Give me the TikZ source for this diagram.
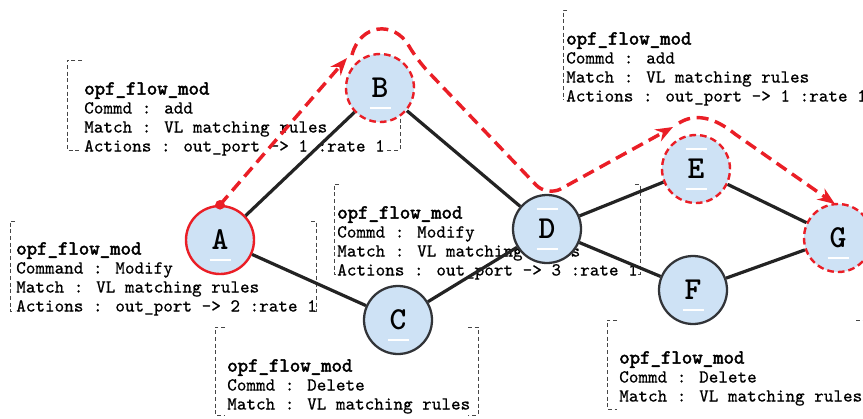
\documentclass[tikz,border=0pt]{standalone}
\usepackage{fontspec}
\usetikzlibrary{arrows.meta}

\newfontfamily\flowfont{lmmono10-regular.otf}[FakeBold=0.6]
\newfontfamily\headfont{lmmono10-regular.otf}[FakeBold=2.4]

\definecolor{swfill}{RGB}{206,226,245}
\definecolor{swline}{RGB}{50,52,56}
\definecolor{linkcol}{RGB}{35,35,35}
\definecolor{pathred}{RGB}{234,30,38}
\definecolor{boxcol}{RGB}{70,70,70}

\tikzset{
  switch/.style={circle, fill=swfill, draw=swline, line width=1.7pt, minimum size=51pt, inner sep=0pt,
    font=\fontsize{24}{24}\selectfont\ttfamily\bfseries},
  onpath/.style={draw=pathred, line width=1.8pt},
  touched/.style={draw=pathred, line width=1.8pt, dash pattern=on 5pt off 3pt},
  link/.style={draw=linkcol, line width=2.4pt},
  route/.style={draw=pathred, line width=2.6pt, dash pattern=on 9pt off 5pt,
    -{Stealth[length=13pt,width=10pt]}},
  flowbox/.style={draw=boxcol, line width=0.6pt, dash pattern=on 3pt off 2pt},
  flowtext/.style={anchor=north west, align=left, inner sep=0pt,
    font=\fontsize{13.7}{14.25}\selectfont\flowfont},
  bar/.style={white, line width=1.5pt}
}
\newcommand{\flowhead}{{\fontsize{14.9}{14.25}\selectfont\headfont opf\_flow\_mod}}

\begin{document}
\begin{tikzpicture}[x=0.75pt,y=-0.75pt]
\useasboundingbox (0,0) rectangle (863,418);

%FLOW MOD BOXES
% box at B
\draw[flowbox] (82,60) -- (67,60) -- (67,150) -- (80,150);
\draw[flowbox] (400,112) -- (400,150) -- (385,150);
\node[flowtext] (txtB) at (84,82) {\flowhead\\Commd : add\\Match : VL matching rules\\Actions : out\_port -> 1 :rate 1};
% box at A
\draw[flowbox] (15,221) -- (10,221) -- (10,311) -- (15,311);
\draw[flowbox] (311,221) -- (316,221) -- (316,311) -- (311,311);
\node[flowtext] (txtA) at (16,242) {\flowhead\\Command : Modify\\Match : VL matching rules\\Actions : out\_port -> 2 :rate 1};
% box at D
\draw[flowbox] (339,184) -- (334,184) -- (334,274) -- (339,274);
\draw[flowbox] (635,184) -- (640,184) -- (640,274) -- (635,274);
\node[flowtext] (txtD) at (337,206) {\flowhead\\Commd : Modify\\Match : VL matching rules\\Actions : out\_port -> 3 :rate 1};
% box at C
\draw[flowbox] (225,327) -- (215,327) -- (215,415) -- (225,415);
\draw[flowbox] (468,327) -- (478,327) -- (478,415) -- (468,415);
\node[flowtext] (txtC) at (227,359) {\flowhead\\Commd : Delete\\Match : VL matching rules};
% box at E
\draw[flowbox] (567,10) -- (563,10) -- (563,100);
\node[flowtext] (txtE) at (566,32) {\flowhead\\Commd : add\\Match : VL matching rules\\Actions : out\_port -> 1 :rate 1};
% box at F
\draw[flowbox] (617,320) -- (607,320) -- (607,409) -- (617,409);
\draw[flowbox] (856,320) -- (866,320);
\node[flowtext] (txtF) at (619,351) {\flowhead\\Commd : Delete\\Match : VL matching rules};

%SWITCHES
\node[switch, onpath]  (A) at (220,240) {A};
\node[switch, touched] (B) at (380,88)  {B};
\node[switch]          (C) at (398,320) {C};
\node[switch]          (D) at (547,229) {D};
\node[switch, touched] (E) at (696,169) {E};
\node[switch]          (F) at (693,290) {F};
\node[switch, touched] (G) at (838,238) {G};
\foreach \n in {A,B,C,D,E,F,G}
  \draw[bar] ([shift={(-10.5,20)}]\n.center) -- ++(21,0);
\foreach \n in {D,E}
  \draw[bar] ([shift={(-10.5,-20)}]\n.center) -- ++(21,0);

%LINKS
\draw[link] (A) -- (B);
\draw[link] (A) -- (C);
\draw[link] (B) -- (D);
\draw[link] (C) -- (D);
\draw[link] (D) -- (E);
\draw[link] (D) -- (F);
\draw[link] (E) -- (G);
\draw[link] (F) -- (G);

%ROUTE
\coordinate (tipB) at (347,58);
\coordinate (tipE) at (673,127);
\coordinate (tipG) at (835,204);
\fill[pathred] (A.north) circle (3.6pt);
\draw[route] (A.north) -- (tipB);
\draw[route, rounded corners=12pt] (352,55) .. controls (360,24) and (394,20) .. (417,60)
  -- ([yshift=-2]D.north) -- (tipE);
\draw[route] (679,123) .. controls (695,113) and (714,117) .. (735,134) -- (tipG);

\end{tikzpicture}
\end{document}
